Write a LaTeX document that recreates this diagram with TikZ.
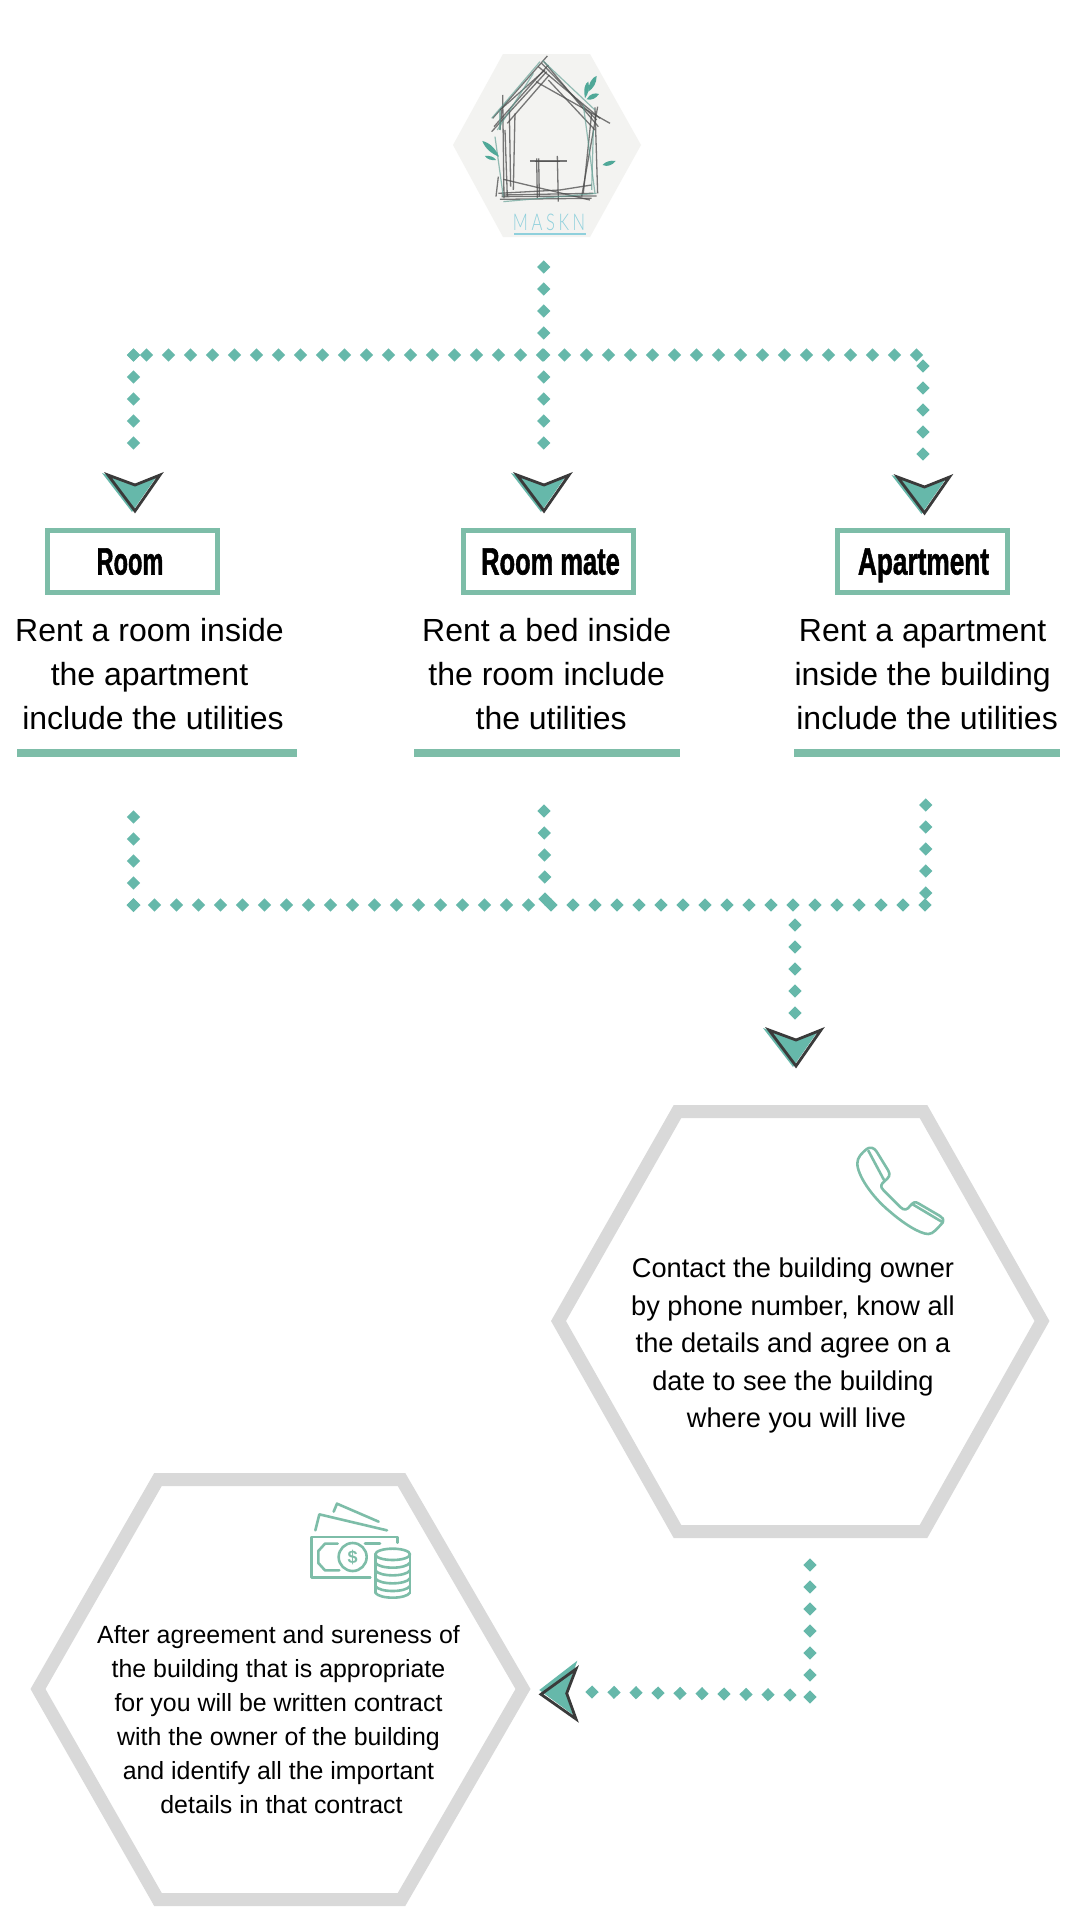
\documentclass[tikz,border=0pt]{standalone}
\usepackage{fontspec}
\usetikzlibrary{decorations.markings}
\setmainfont{Liberation Sans}
\newfontfamily\logofont[LetterSpace=22]{Lato Light}
\newfontfamily\titlefont[FakeBold=1.6]{Liberation Sans Bold}
\definecolor{dotteal}{HTML}{66B8AA}
\definecolor{boxteal}{HTML}{7DBDA8}
\definecolor{hexgray}{HTML}{D9D9D9}
\definecolor{arrowdark}{HTML}{3A3A3A}
\definecolor{logobg}{HTML}{F3F3F1}
\definecolor{logoblue}{HTML}{8FD0DC}
\definecolor{leafteal}{HTML}{4FA898}
\tikzset{
  x=1pt,y=-1pt,
  dots/.style={decorate,decoration={markings,
    mark=between positions 0 and 1 step 22pt with {\fill[dotteal] (-6.6pt,0pt)--(0pt,6.6pt)--(6.6pt,0pt)--(0pt,-6.6pt)--cycle;}}},
  hexline/.style={draw=hexgray,line width=13pt,miter limit=10},
  labelbox/.style={draw=boxteal,line width=5pt,minimum width=170pt,minimum height=62pt,inner sep=0pt,
    text height=26pt,text depth=0pt,font=\fontsize{38}{38}\titlefont},
  bodytext/.style={align=center,inner sep=0pt,font=\fontsize{32}{44}\selectfont},
  hextext/.style={align=center,inner sep=0pt},
  rule/.style={fill=boxteal,draw=none},
  icon/.style={draw=boxteal,line width=2.6pt,line cap=round,line join=round},
  sketch/.style={draw=black!70,line width=1.3pt,opacity=.75},
  sketchteal/.style={draw=leafteal!70!gray,line width=1.2pt,opacity=.65},
  headdown/.pic={
    \fill[dotteal] (-33,-40)--(0,-28)--(22,-37)--(-3,-1)--cycle;
    \draw[arrowdark,line width=2.8pt,line join=miter] (-27,-38)--(0,-28)--(25,-38)--(0,-2)--cycle;
  },
}
\begin{document}
\begin{tikzpicture}
\useasboundingbox (0,0) rectangle (1080,1920);
\fill[white] (0,0) rectangle (1080,1920);

% logo
\fill[logobg] (453,145)--(503,54)--(590,54)--(641,145)--(590,237)--(503,237)--cycle;
\begin{scope}[shift={(420,30)},x=0.3333pt,y=-0.3333pt]
  \foreach \a/\b/\c/\d in {248/195/252/505, 268/240/272/470, 285/250/280/480, 235/440/228/500, 255/300/262/500,
    218/265/382/78, 222/290/385/105, 215/305/380/125, 262/280/388/135, 240/240/375/120, 348/155/570/280, 372/95/535/290, 355/110/540/265, 365/100/530/270,
    385/150/525/300, 525/232/533/490, 533/230/485/500, 515/250/490/490, 250/448/510/510, 245/495/520/490, 240/508/515/505, 245/500/530/498,
    235/490/420/480, 420/480/515/465, 240/300/245/240, 330/393/440/393, 350/385/352/505, 356/385/358/500, 412/378/415/515, 345/395/420/395}
  { \draw[sketch] (\a,\b)--(\c,\d); }
  \foreach \a/\b/\c/\d in {215/265/360/95, 225/320/250/500, 490/225/525/490, 250/515/530/490, 368/92/525/240, 240/240/240/300, 232/300/340/130, 520/300/515/480}
  { \draw[sketchteal] (\a,\b)--(\c,\d); }
  \fill[leafteal] (495,205) .. controls (490,175) and (495,160) .. (505,155) .. controls (510,175) and (505,190) .. (495,205)--cycle;
  \fill[leafteal] (505,185) .. controls (505,160) and (518,140) .. (530,138) .. controls (530,160) and (520,175) .. (505,185)--cycle;
  \fill[leafteal] (500,208) .. controls (510,190) and (525,188) .. (537,192) .. controls (528,205) and (515,212) .. (500,208)--cycle;
  \fill[leafteal] (548,405) .. controls (555,395) and (572,390) .. (587,393) .. controls (578,405) and (562,412) .. (548,405)--cycle;
  \fill[leafteal] (237,380) .. controls (215,372) and (195,355) .. (187,333) .. controls (210,338) and (228,358) .. (237,380)--cycle;
  \fill[leafteal] (228,390) .. controls (215,392) and (200,388) .. (195,378) .. controls (208,376) and (222,380) .. (228,390)--cycle;
  \draw[logoblue,line width=1.4pt] (283,612)--(497,612);
\end{scope}
\node[inner sep=0pt,text=logoblue,font=\logofont\fontsize{23}{23}\selectfont] (brand) at (549,222) {\scalebox{0.72}[1]{MASKN}};

% top tree
\coordinate (top) at (543.7,267);
\coordinate (tl) at (133.5,355);
\coordinate (tlnext) at (146.5,355);
\coordinate (trend) at (918,355);
\coordinate (trdown) at (923,366);
\coordinate (a1) at (133.5,444);
\coordinate (a2) at (543.7,444);
\coordinate (a3) at (923,455);
\path[dots] (top) -- (a2);
\path[dots] (tl) -- (a1);
\path[dots] (tlnext) -- (trend);
\path[dots] (trdown) -- (a3);
\fill[dotteal] (133.5,348.5)--(140,355)--(133.5,361.5)--(127,355)--cycle;

\pic at (135,513) {headdown};
\pic at (544,513) {headdown};
\pic at (924.5,515) {headdown};

% labels
\node[labelbox] (room) at (132,561.5) {\hspace*{-4pt}\scalebox{0.62}[1]{Room}};
\node[labelbox] (mate) at (548,561.5) {\hspace*{5pt}\scalebox{0.67}[1]{Room mate}};
\node[labelbox] (apt) at (922,561.5) {\hspace*{3pt}\scalebox{0.69}[1]{Apartment}};

\node[bodytext] (t1) at (149.5,674) {Rent a room inside\\the apartment\\\hspace*{7pt}include the utilities};
\node[bodytext] (t2) at (546.7,674) {Rent a bed inside\\the room include\\\hspace*{9pt}the utilities};
\node[bodytext] (t3) at (922.6,675) {Rent a apartment\\inside the building\\\hspace*{9pt}include the utilities};

\fill[rule] (16.5,749) rectangle (297,757);
\fill[rule] (414,749) rectangle (680,757);
\fill[rule] (793.5,749) rectangle (1060,757);

% lower tree
\coordinate (b1) at (133.5,817);
\coordinate (b2) at (544,811);
\coordinate (b3) at (925.7,805);
\coordinate (bl) at (133.5,905);
\coordinate (bln) at (154.5,905);
\coordinate (bm) at (545,900);
\coordinate (bme) at (529.5,905);
\coordinate (bms) at (551,905);
\coordinate (br) at (925.7,905);
\coordinate (down) at (795,925);
\coordinate (a4) at (795,1014);
\path[dots] (b1) -- (bl);
\path[dots] (b2) -- (bm);
\path[dots] (b3) -- (br);
\path[dots] (bln) -- (bme);
\path[dots] (bms) -- (br);
\path[dots] (down) -- (a4);
\fill[dotteal] (133.5,898)--(140.5,905)--(133.5,912)--(126.5,905)--cycle;

\pic at (796,1068) {headdown};

% hexagon 1
\path[hexline] (558.5,1321)--(677.5,1111.5)--(923.5,1111.5)--(1042,1321)--(923.5,1531.5)--(677.5,1531.5)--cycle;
\node[hextext,font=\fontsize{27.2}{37.6}\selectfont] (h1) at (793,1345.7) {Contact the building owner\\by phone number, know all\\the details and agree on a\\date to see the building\\\hspace*{7pt}where you will live};

% phone
\begin{scope}[shift={(800,1100)},x=0.3333pt,y=-0.3333pt]
  \draw[icon] (200,147) .. controls (185,160) and (172,172) .. (172,190)
     .. controls (172,225) and (215,290) .. (270,335)
     .. controls (310,370) and (360,402) .. (385,402)
     .. controls (400,402) and (412,385) .. (428,368)
     .. controls (432,358) and (428,352) .. (420,348)
     -- (355,310) .. controls (345,303) and (338,308) .. (330,318)
     .. controls (322,330) and (312,332) .. (302,322)
     -- (250,270) .. controls (240,260) and (243,253) .. (252,245)
     .. controls (268,232) and (272,225) .. (265,212)
     -- (230,155) .. controls (222,142) and (210,140) .. (200,147) -- cycle;
  \draw[icon] (205,152)--(252,240);
  \draw[icon] (338,313)--(425,365);
\end{scope}

% money
\begin{scope}[shift={(281,1481)},x=0.3333pt,y=-0.3333pt]
  \draw[icon] (350,185)--(350,168)--(92,168)--(92,290)--(268,290);
  \draw[icon] (170,188)--(132,188)--(112,210)--(112,246)--(132,268)--(175,268);
  \draw[icon] (252,187)--(297,187);
  \draw[icon] (215,228) circle[radius=42];
  \draw[icon] (103,148)--(115,100)--(318,148);
  \draw[icon] (158,92)--(168,68)--(293,122);
  \fill[white] (283,220) rectangle (387,340);
  \draw[icon,fill=white] (335,220) ellipse[x radius=52,y radius=17];
  \draw[icon] (283,220)--(283,335);
  \draw[icon] (387,220)--(387,335);
  \foreach \y in {245,268,292,315,335}
    \draw[icon] (283,\y) .. controls (295,\y+20) and (375,\y+20) .. (387,\y);
\end{scope}
\node[inner sep=0pt,text=boxteal,font=\fontsize{18}{18}\selectfont\bfseries] (dollar) at (352.7,1557) {\$};

% lower right to left
\coordinate (c1) at (810,1565);
\coordinate (c2) at (810,1697);
\coordinate (c3) at (790,1695);
\coordinate (a5) at (591,1692);
\path[dots] (c1) -- (c2);
\path[dots] (c3) -- (a5);

\fill[dotteal] (577.3,1660.7)--(539.3,1690)--(573.3,1715)--(566,1693)--cycle;
\draw[arrowdark,line width=2.8pt] (576,1669)--(566.7,1693.3)--(576,1719)--(541,1694.3)--cycle;

% hexagon 2
\path[hexline] (38,1689)--(158,1479.5)--(401.5,1479.5)--(523,1689)--(401.5,1899.5)--(158,1899.5)--cycle;
\node[hextext,font=\fontsize{24.9}{34}\selectfont] (h2) at (278.5,1720) {After agreement and sureness of\\the building that is appropriate\\for you will be written contract\\with the owner of the building\\and identify all the important\\\hspace*{6pt}details in that contract};
\end{tikzpicture}
\end{document}
